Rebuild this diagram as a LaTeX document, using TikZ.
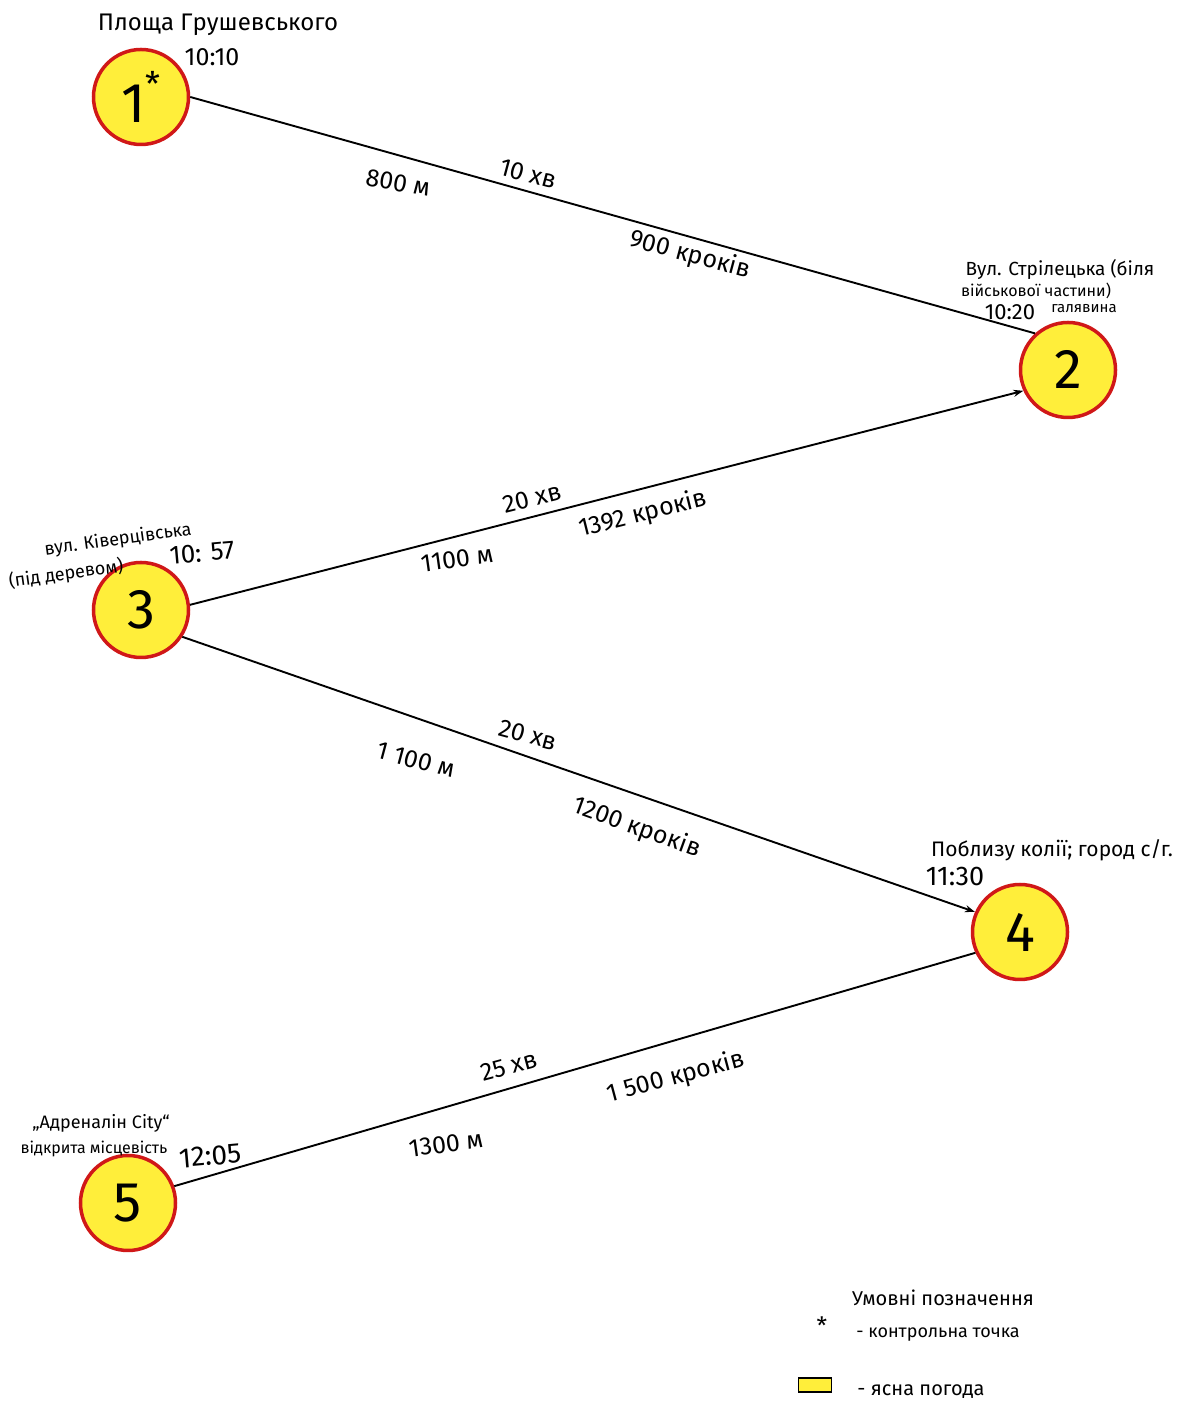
\documentclass[tikz,border=0pt]{standalone}
\usepackage{fontspec}
\setmainfont{Fira Sans}
\usetikzlibrary{arrows.meta}
\definecolor{ptfill}{HTML}{FFEE3A}
\definecolor{ptedge}{HTML}{D01818}
\tikzset{
  pt/.style={circle,draw=ptedge,fill=ptfill,line width=3.5pt,minimum size=95pt,inner sep=0pt,font=\fontsize{56}{60}\selectfont},
  route/.style={line width=1.9pt,black},
  lbl/.style={inner sep=0pt,font=\fontsize{25}{27}\selectfont},
  place/.style={inner sep=0pt,font=\fontsize{24}{26}\selectfont},
  small/.style={inner sep=0pt,font=\fontsize{14}{16}\selectfont},
  tm/.style={inner sep=0pt,font=\fontsize{25}{27}\selectfont},
}
\begin{document}
\begin{tikzpicture}[x=1pt,y=1pt]
\useasboundingbox[fill=white] (0,0) rectangle (1182,1410);

% points
\node[pt] (n1) at (141,1313) {1\raisebox{0.45em}{\fontsize{34}{36}\selectfont*}};
\node[pt] (n2) at (1068,1040) {2};
\node[pt] (n3) at (141,800) {3};
\node[pt] (n4) at (1020,478) {4};
\node[pt] (n5) at (128,207) {5};

% routes
\draw[route] (n1.east) -- (n2.132);
\draw[route,-{Stealth[length=10pt,width=7pt]}] (n3.6) -- (n2.205);
\draw[route,-{Stealth[length=10pt,width=7pt]}] (n3.327) -- (n4.156);
\draw[route] (n5.20) -- (n4.205);

% route labels 1-2
\node[lbl,rotate=-10] (l1a) at (398,1227) {800 м};
\node[lbl,rotate=-15] (l1b) at (528,1236) {10 хв};
\node[lbl,rotate=-15] (l1c) at (690,1155) {900 кроків};
% route labels 3-2
\node[lbl,rotate=14] (l2a) at (532,912) {20 хв};
\node[lbl,rotate=14] (l2b) at (643,896) {1392 кроків};
\node[lbl,rotate=8] (l2c) at (457,851) {1100 м};
% route labels 3-4
\node[lbl,rotate=-15] (l3a) at (416,650) {1 100 м};
\node[lbl,rotate=-15] (l3b) at (528,675) {20 хв};
\node[lbl,rotate=-20] (l3c) at (637,582) {1200 кроків};
% route labels 5-4
\node[lbl,rotate=15] (l4a) at (509,344) {25 хв};
\node[lbl,rotate=15] (l4b) at (676,333) {1 500 кроків};
\node[lbl,rotate=8] (l4c) at (446,266) {1300 м};

% place names and times
\node[place] (p1) at (218,1385) {Площа Грушевського};
\node[tm] (t1) at (212,1353) {10:10};

\node[small,font=\fontsize{19}{21}\selectfont] (p2a) at (1060,1140) {Вул. Стрілецька (біля};
\node[small,font=\fontsize{16}{18}\selectfont] (p2b) at (1036,1119) {військової частини)};
\node[tm,font=\fontsize{22}{24}\selectfont] (t2) at (1010,1098) {10:20};
\node[small,font=\fontsize{15}{17}\selectfont] (p2c) at (1084,1101) {галявина};

\node[small,font=\fontsize{18}{20}\selectfont,rotate=8] (p3a) at (118,870) {вул. Ківерцівська};
\node[small,font=\fontsize{18}{20}\selectfont,rotate=8] (p3b) at (66,836) {(під деревом)};
\node[tm,font=\fontsize{26}{28}\selectfont,rotate=5] (t3) at (202,857) {10: 57};

\node[place,font=\fontsize{21}{23}\selectfont] (p4) at (1052,560) {Поблизу колії; город с/г.};
\node[tm,font=\fontsize{27}{29}\selectfont] (t4) at (955,533) {11:30};

\node[small,font=\fontsize{18}{20}\selectfont] (p5a) at (101,287) {„Адреналін City“};
\node[small,font=\fontsize{16}{18}\selectfont] (p5b) at (94,261) {відкрита місцевість};
\node[tm,font=\fontsize{28}{30}\selectfont,rotate=5] (t5) at (210,254) {12:05};

% legend
\node[small,font=\fontsize{20}{22}\selectfont] (lg) at (943,112) {Умовні позначення};
\node[small,font=\fontsize{24}{26}\selectfont] (lgs) at (822,84) {*};
\node[small,font=\fontsize{18}{20}\selectfont] (lgt) at (938,75) {- контрольна точка};
\node[draw=black,line width=1.8pt,fill=ptfill,minimum width=33pt,minimum height=14pt,inner sep=0pt] (lgr) at (815,25) {};
\node[small,font=\fontsize{20}{22}\selectfont] (lgu) at (921,18) {- ясна погода};
\end{tikzpicture}
\end{document}
